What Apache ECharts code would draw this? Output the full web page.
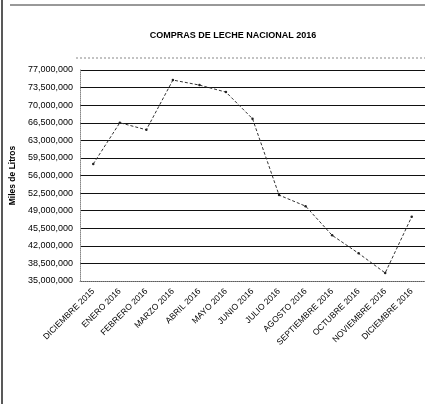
<!DOCTYPE html>
<html><head><meta charset="utf-8">
<script src="https://cdn.jsdelivr.net/npm/echarts@6/dist/echarts.min.js"></script>
<style>html,body{margin:0;padding:0;background:#fff}#c{width:425px;height:404px}</style>
</head><body><div id="c"></div>
<script>
const categories = ["DICIEMBRE 2015","ENERO 2016","FEBRERO 2016","MARZO 2016","ABRIL 2016","MAYO 2016","JUNIO 2016","JULIO 2016","AGOSTO 2016","SEPTIEMBRE 2016","OCTUBRE 2016","NOVIEMBRE 2016","DICIEMBRE 2016"];
const compras = [58300000,66500000,65100000,75000000,74000000,72600000,67300000,52100000,49900000,44100000,40500000,36600000,47800000];
const yMin = 35000000, yMax = 77000000, yStep = 3500000;

const chart = echarts.init(document.getElementById('c'), null, {renderer:'canvas'});
chart.setOption({
  animation:false,
  backgroundColor:'#fff',
  title:{text:'COMPRAS DE LECHE NACIONAL 2016', left:228, textAlign:'center', top:26,
    textStyle:{fontFamily:'Liberation Sans', fontSize:9, fontWeight:'bold', color:'#000'}},
  grid:{left:80, right:0, top:70, bottom:123},
  graphic:[
    {type:'line', shape:{x1:2,y1:0,x2:2,y2:404}, style:{stroke:'#222', lineWidth:1.5}},
    {type:'line', shape:{x1:10,y1:5,x2:425,y2:5}, style:{stroke:'#333', lineWidth:1}},
    {type:'line', shape:{x1:76,y1:58,x2:425,y2:58}, style:{stroke:'#888', lineWidth:1, lineDash:[2,2]}}
  ],
  xAxis:{type:'category', data:categories, boundaryGap:true,
    axisLine:{lineStyle:{color:'#888', type:'dotted'}},
    axisTick:{show:false},
    axisLabel:{rotate:45, interval:0, fontFamily:'Liberation Sans', fontSize:8.5, color:'#000', margin:9}},
  yAxis:{type:'value', min:yMin, max:yMax, interval:yStep,
    name:'Miles de Litros', nameLocation:'middle', nameGap:56, nameRotate:90,
    nameTextStyle:{fontFamily:'Liberation Sans', fontSize:8.5, fontWeight:'bold', color:'#000'},
    axisLine:{show:true, lineStyle:{color:'#888', type:'dotted'}},
    axisTick:{show:false},
    splitLine:{lineStyle:{color:'#111', width:1}},
    axisLabel:{fontFamily:'Liberation Sans', fontSize:9, color:'#000', margin:7,
      formatter:v=>v.toLocaleString('en-US')}},
  series:[{type:'line', data:compras, symbol:'circle', symbolSize:2.5,
    lineStyle:{color:'#333', width:1, type:[3,2]}, itemStyle:{color:'#222'}}]
});
</script></body></html>
